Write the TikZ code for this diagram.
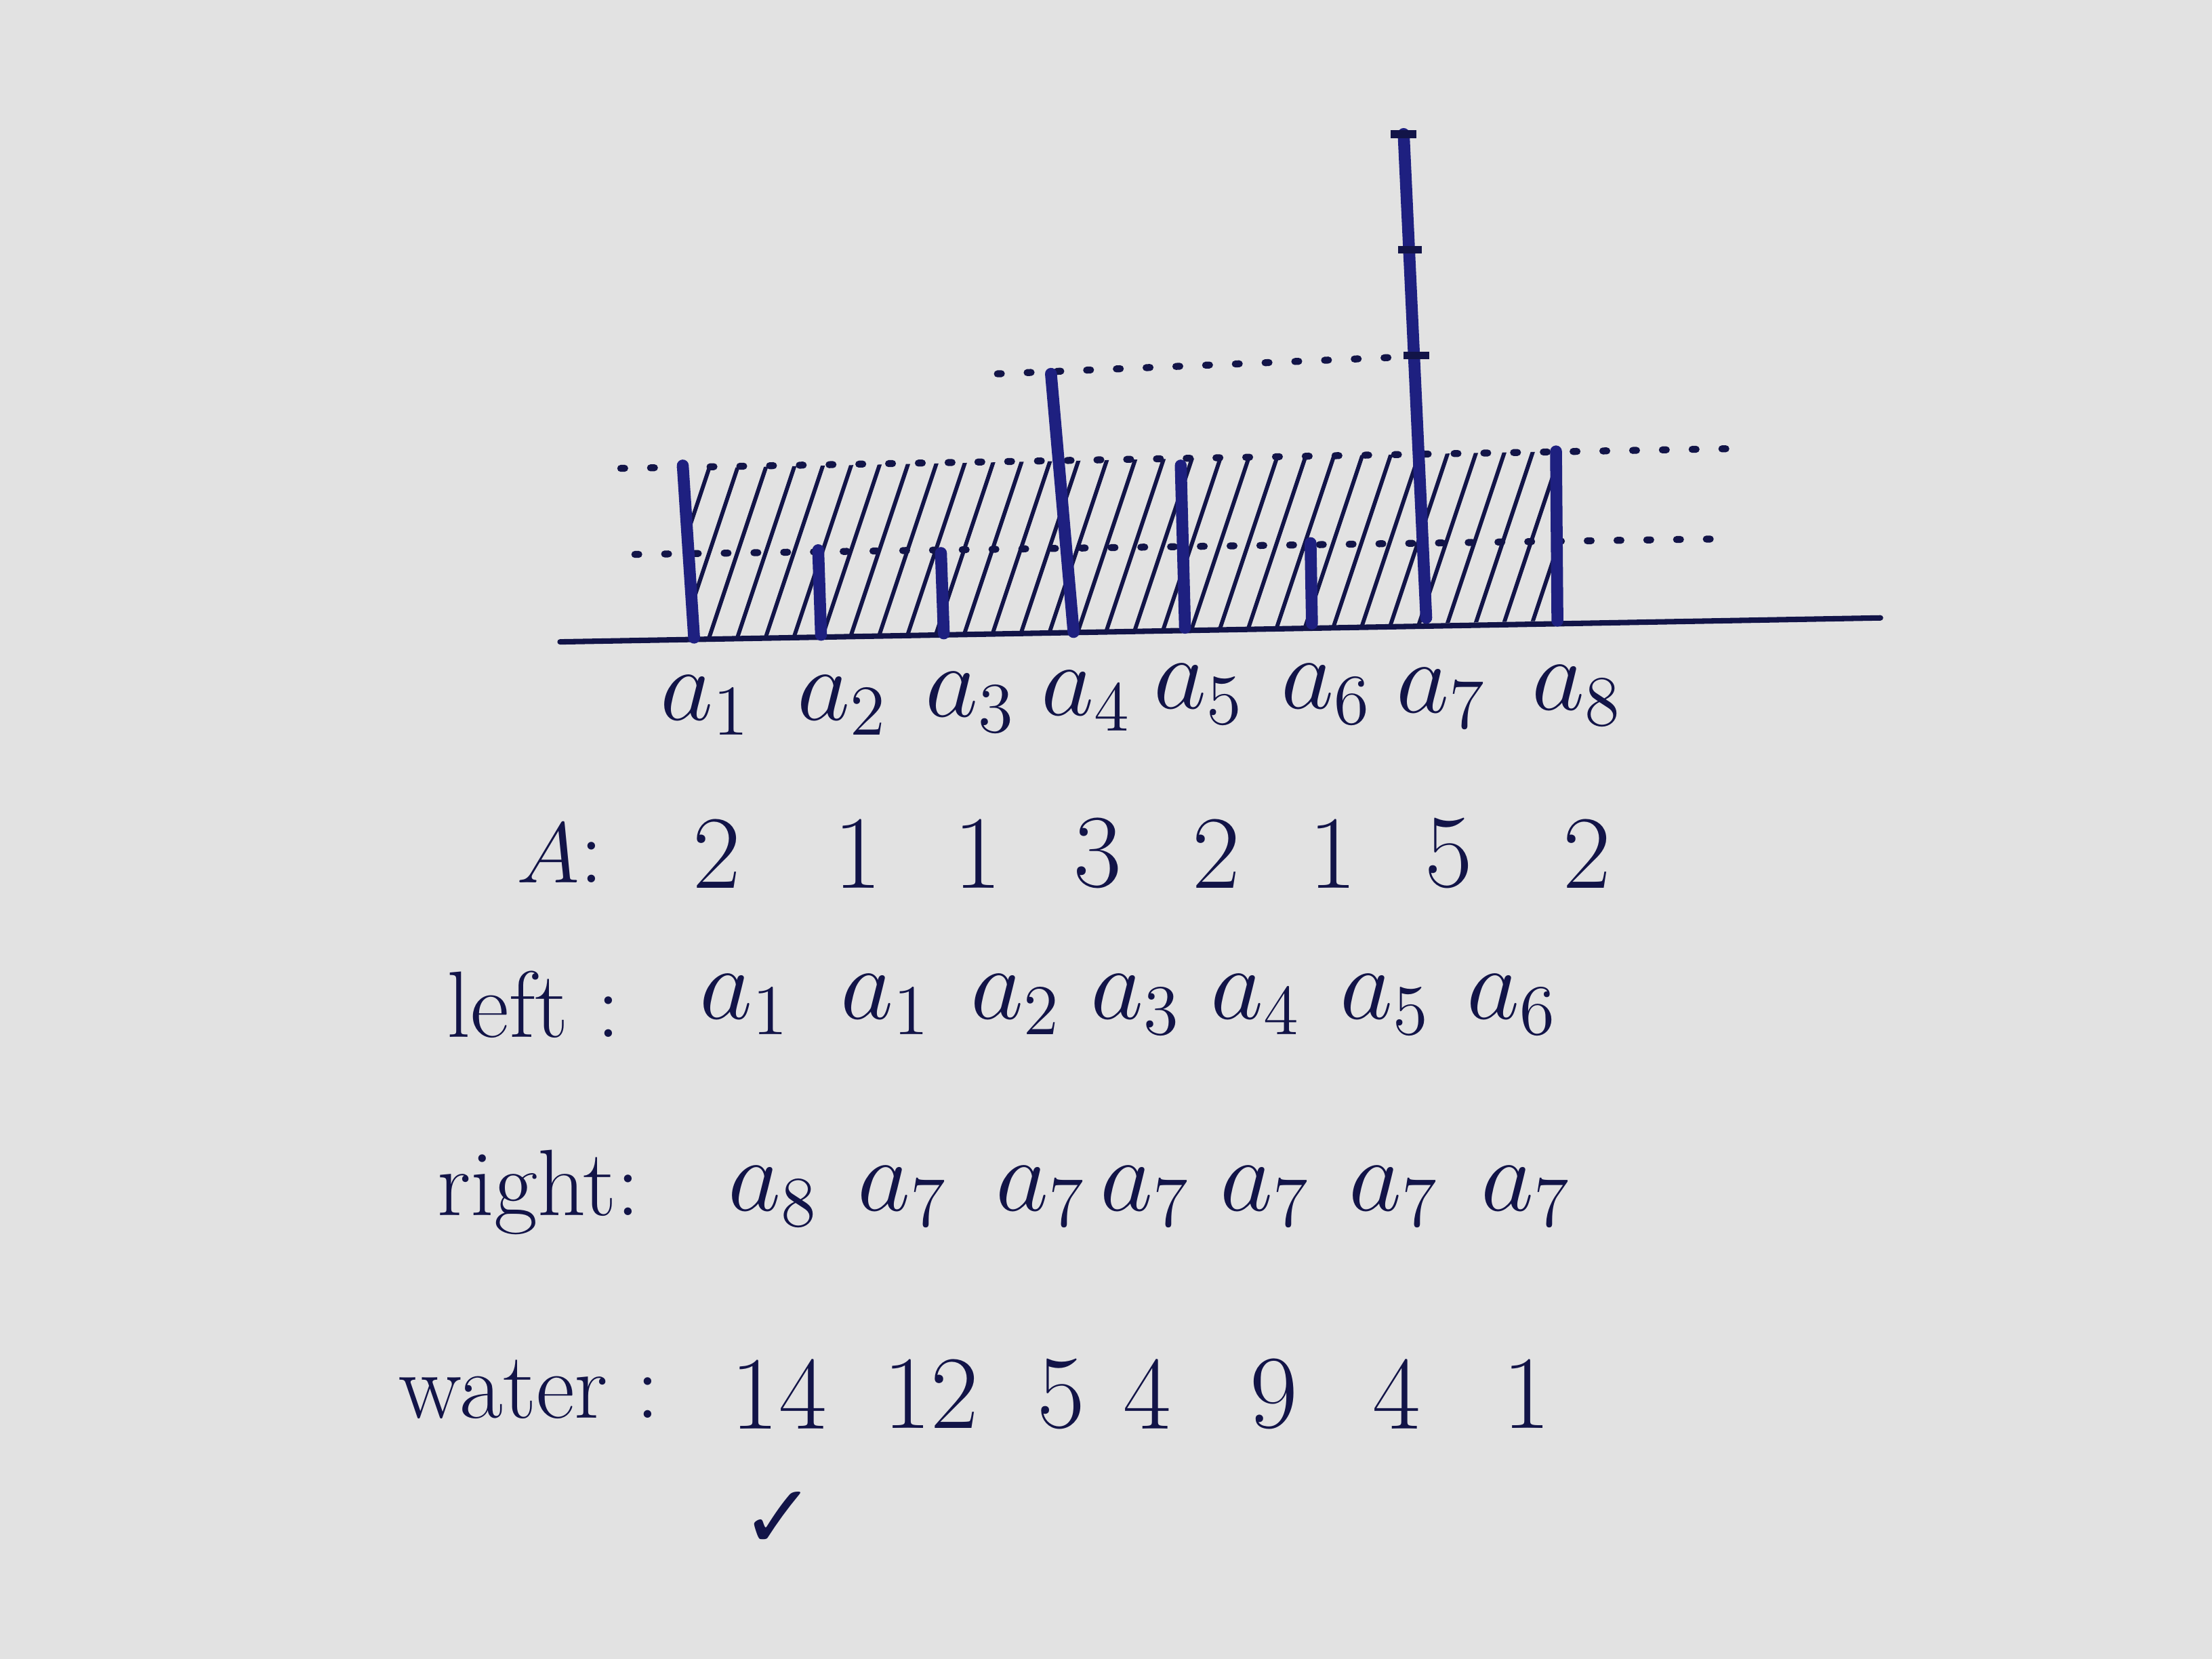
\documentclass[tikz,border=0pt]{standalone}
\usepackage{amsmath}
\usepackage{fontspec}
\usepackage{tikz}
\usetikzlibrary{positioning}
\newfontfamily\checkfont{DejaVu Sans}
\definecolor{ink}{RGB}{18,20,72}
\definecolor{barblue}{RGB}{30,32,128}
\definecolor{board}{RGB}{226,226,226}

\begin{document}
\begin{tikzpicture}[x=0.01cm, y=-0.01cm,
    bar/.style={barblue, line width=2.4pt, line cap=round},
    ground/.style={ink, line width=1.1pt, line cap=round},
    level/.style={ink, line width=1.4pt, dash pattern=on 0.8pt off 5.2pt, line cap=round},
    hatch/.style={ink, line width=0.8pt},
    tick/.style={ink, line width=1.6pt},
    lbl/.style={text=ink, font=\fontsize{21}{25}\selectfont, inner sep=1pt},
    num/.style={text=ink, font=\fontsize{21}{25}\selectfont, inner sep=1pt},
    head/.style={text=ink, font=\fontsize{19}{23}\selectfont, inner sep=1pt, anchor=east},
  ]

  % board
  \fill[board] (0,0) rectangle (1568,1176);
  \useasboundingbox (0,0) rectangle (1568,1176);

  % ground line
  \coordinate (g0) at (397,455);
  \coordinate (g1) at (1333,438);
  \draw[ground] (g0) -- (g1);

  % hatched water
  \begin{scope}
    \clip (490,453) -- (1104,440) -- (1104,320) -- (484,332) -- cycle;
    \foreach \x in {380,400,...,1120}
      \draw[hatch] (\x,460) -- ++(50,-150);
  \end{scope}

  % water levels
  \draw[level] (450,393) -- (1220,382);
  \draw[level] (440,332) -- (1230,318);
  \draw[level] (707,265) -- (1020,252);

  % bars: name / bottom / top
  \foreach \i/\bx/\by/\tx/\ty in {1/492/452/484/330, 2/582/450/580/390,
                                   3/669/449/667/392, 4/761/448/745/265,
                                   5/840/445/837/330, 6/930/442/929/385,
                                   7/1011/438/995/95, 8/1104/440/1103/320} {
    \coordinate (bot\i) at (\bx,\by);
    \coordinate (top\i) at (\tx,\ty);
    \draw[bar] (bot\i) -- (top\i);
  }
  \draw[tick] (top7) ++(-9,0) -- ++(18,0);
  \draw[tick] (991,177) -- (1008,177);
  \draw[tick] (995,252) -- (1013,252);

  % bar names
  \foreach \i/\x/\y in {1/500/500, 2/597/500, 3/688/498, 4/770/497,
                        5/850/492, 6/940/492, 7/1022/495, 8/1118/493}
    \node[lbl] (n\i) at (\x,\y) {$a_{\i}$};

  % heights
  \node[head] (hA) at (432,605) {$A$:};
  \foreach \i/\x/\v in {1/508/2, 2/608/1, 3/693/1, 4/778/3,
                        5/862/2, 6/945/1, 7/1027/5, 8/1125/2}
    \node[num] (A\i) at (\x,605) {\v};

  % left maxima
  \node[head] (hL) at (444,712) {left :};
  \foreach \i/\x/\v in {1/528/1, 2/628/1, 3/720/2, 4/805/3,
                        5/890/4, 6/982/5, 7/1072/6}
    \node[lbl] (L\i) at (\x,712) {$a_{\v}$};

  % right maxima
  \node[head] (hR) at (458,845) {right:};
  \foreach \i/\x/\v in {1/548/8, 2/640/7, 3/738/7, 4/812/7,
                        5/897/7, 6/988/7, 7/1082/7}
    \node[lbl] (R\i) at (\x,848) {$a_{\v}$};

  % trapped water
  \node[head] (hW) at (472,985) {water :};
  \foreach \i/\x/\v in {1/552/14, 2/660/12, 3/752/5, 4/813/4,
                        5/903/9, 6/990/4, 7/1082/1}
    \node[num] (W\i) at (\x,988) {\v};

  \node[text=ink, font=\checkfont\fontsize{18}{22}\selectfont, below=8pt of W1] (ok) {✓};

\end{tikzpicture}
\end{document}
